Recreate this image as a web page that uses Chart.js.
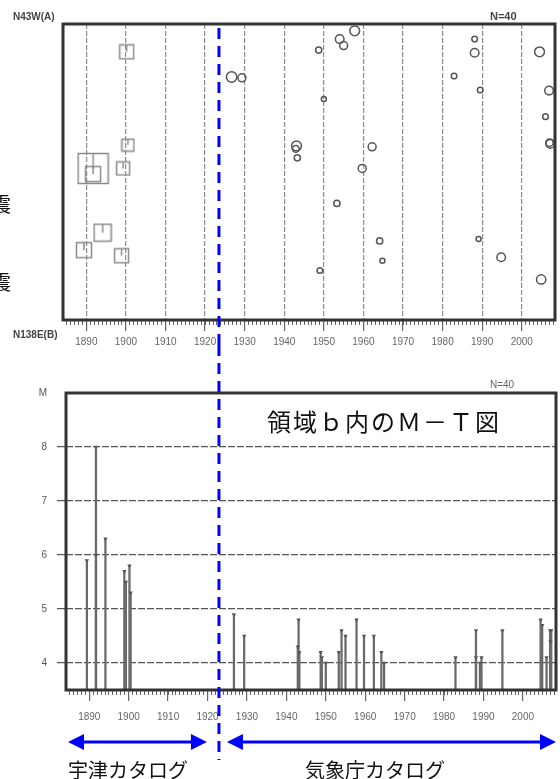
<!DOCTYPE html>
<html lang="ja">
<head>
<meta charset="UTF-8">
<title>領域b内の時空間分布とM-T図</title>
<script src="https://cdn.jsdelivr.net/npm/chart.js"></script>
<style>
    body {
        margin: 0;
        background: #fff;
        font-family: "Noto Sans CJK JP", sans-serif;
    }
    .wrap {
        position: relative;
        width: 560px;
        height: 779px;
        overflow: hidden;
    }
    #topChart { position: absolute; left: 0; top: 0; }
    #mtChart { position: absolute; left: 0; top: 345px; }
    .lbl { position: absolute; white-space: nowrap; }
    .small {
        font-family: Arial, "Liberation Sans", sans-serif;
        font-size: 10px;
        font-weight: bold;
        color: #444;
        line-height: 12px;
    }
    .jp { font-family: "Noto Sans CJK JP", sans-serif; color: #111; }
</style>
</head>
<body>
<div class="wrap">
    <canvas id="topChart" width="560" height="345"></canvas>
    <canvas id="mtChart" width="560" height="434"></canvas>

    <div class="lbl small" style="left:13px; top:11px;">N43W(A)</div>
    <div class="lbl small" style="left:490px; top:10px; font-size:11px;">N=40</div>
    <div class="lbl small" style="left:13px; top:329px;">N138E(B)</div>
    <div class="lbl small" style="left:490px; top:379px; font-weight:normal; color:#666;">N=40</div>

    <div class="lbl jp" style="left:-9px; top:192px; font-size:20px; line-height:24px;">震</div>
    <div class="lbl jp" style="left:-9px; top:270px; font-size:20px; line-height:24px;">震</div>

    <div class="lbl jp" style="left:267px; top:406px; font-size:24px; line-height:30px; letter-spacing:2px;">領域ｂ内のＭ－Ｔ図</div>
    <div class="lbl jp" style="left:68px; top:758px; font-size:20px; line-height:24px;">宇津カタログ</div>
    <div class="lbl jp" style="left:305px; top:758px; font-size:20px; line-height:24px;">気象庁カタログ</div>
</div>
<script>
    // 宇津カタログ (1923年以前)
    const utsuYears = [1889.4, 1891.7, 1891.7, 1894.1, 1898.9, 1899.3, 1900.2, 1900.5];
    const utsuPos   = [76.4, 48.8, 50.7, 70.5, 78.3, 48.8, 9.4, 40.9];   // A(0) → B(100)
    const utsuMag   = [5.9, 8.0, 6.0, 6.3, 5.7, 5.5, 5.8, 5.3];

    // 気象庁カタログ
    const jmaYears = [1926.7, 1929.3, 1943.1, 1942.9, 1943.3, 1948.7, 1949.0, 1950.0, 1953.3, 1954.0,
                      1955.0, 1957.8, 1959.7, 1962.2, 1964.1, 1964.8, 1982.9, 1988.1, 1988.1, 1989.5,
                      1989.1, 1994.8, 2004.5, 2004.9, 2006.0, 2006.9, 2007.0, 2007.2];
    const jmaPos   = [17.9, 18.2, 41.2, 42.2, 45.2, 8.8, 83.3, 25.3, 60.6, 5.1,
                      7.3, 2.3, 48.8, 41.5, 73.3, 80.0, 17.6, 9.7, 5.1, 22.3,
                      72.6, 78.8, 9.4, 86.3, 31.3, 22.5, 40.1, 40.5];
    const jmaMag   = [4.9, 4.5, 4.8, 4.3, 4.2, 4.2, 4.1, 4.0, 4.2, 4.6,
                      4.5, 4.8, 4.5, 4.5, 4.2, 4.0, 4.1, 4.6, 4.1, 4.1,
                      4.0, 4.6, 4.8, 4.7, 4.1, 4.6, 4.4, 4.6];

    // 目盛
    const yearTicks = [1890, 1900, 1910, 1920, 1930, 1940, 1950, 1960, 1970, 1980, 1990, 2000];
    const magTicks = [4, 5, 6, 7, 8];

    const yearMin = 1884.1;
    const yearMax = 2008.4;
    const catalogSplitYear = 1923.5;
    const magMin = 3.5;
    const magMax = 9;

    const tickFont = { family: 'Arial, "Liberation Sans", sans-serif', size: 10 };

    // マグニチュード → シンボルの大きさ
    const squareSide = m => 13 * Math.pow(1.4, m - 5.5);
    const circleRadius = m => 2.5 + (m - 4) * 3;

    // 宇津カタログ用の四角シンボル (上辺から短い縦線)
    function squareSymbol(m) {
        const side = Math.round(squareSide(m));
        const c = document.createElement('canvas');
        c.width = side + 3;
        c.height = side + 3;
        const g = c.getContext('2d');
        g.strokeStyle = '#8a8a8a';
        g.lineWidth = 1.5;
        g.strokeRect(1.5, 1.5, side, side);
        g.beginPath();
        g.moveTo(1.5 + side / 2, 1.5);
        g.lineTo(1.5 + side / 2, 1.5 + side * 0.5);
        g.stroke();
        return c;
    }

    // 年の目盛 (1年ごとの細かい目盛 + 10年ごとの目盛)
    function yearAxes(labelPad, height, withGrid) {
        return {
            xMinor: {
                type: 'linear', position: 'bottom', weight: 0,
                min: yearMin, max: yearMax, offset: false,
                afterFit: s => { s.height = 0; },
                afterBuildTicks: s => {
                    const t = [];
                    for (let v = Math.ceil(yearMin); v <= yearMax; v++) t.push({ value: v });
                    s.ticks = t;
                },
                border: { display: false },
                grid: { drawOnChartArea: false, tickLength: 5, color: '#666', offset: false },
                ticks: { autoSkip: false, display: false }
            },
            x: {
                type: 'linear', position: 'bottom', weight: 1,
                min: yearMin, max: yearMax, offset: false,
                afterFit: s => { s.height = height; },
                afterBuildTicks: s => { s.ticks = yearTicks.map(v => ({ value: v })); },
                border: { display: false, dash: [5, 2] },
                grid: {
                    offset: false,
                    drawOnChartArea: withGrid,
                    tickLength: 11,
                    color: '#8c8c8c',
                    tickColor: '#666',
                    lineWidth: 1.2
                },
                ticks: {
                    autoSkip: false, maxRotation: 0,
                    padding: labelPad, color: '#666', font: tickFont,
                    callback: v => String(v)
                }
            }
        };
    }

    const framePlugin = {
        id: 'frame',
        afterDraw(chart) {
            const a = chart.chartArea, ctx = chart.ctx;
            ctx.save();
            ctx.lineWidth = 3;
            ctx.strokeStyle = '#333';
            ctx.strokeRect(a.left, a.top, a.right - a.left, a.bottom - a.top);
            ctx.restore();
        }
    };

    // 宇津カタログと気象庁カタログの境界 (青破線) と矢印
    let splitX = null;
    const splitPlugin = {
        id: 'split',
        afterDraw(chart, args, opts) {
            const ctx = chart.ctx, a = chart.chartArea;
            if (splitX === null) splitX = chart.scales.x.getPixelForValue(catalogSplitYear);
            const x = splitX;
            ctx.save();
            ctx.strokeStyle = '#0000ff';
            ctx.lineWidth = 3;
            ctx.setLineDash([11, 7]);
            ctx.beginPath();
            ctx.moveTo(x, opts.from);
            ctx.lineTo(x, opts.to);
            ctx.stroke();
            ctx.setLineDash([]);
            if (opts.arrowY) {
                const y = opts.arrowY;
                ctx.fillStyle = '#0000ff';
                const arrow = (x1, x2) => {
                    ctx.beginPath();
                    ctx.moveTo(x1 + 10, y);
                    ctx.lineTo(x2 - 10, y);
                    ctx.stroke();
                    [[x1, 1], [x2, -1]].forEach(([px, d]) => {
                        ctx.beginPath();
                        ctx.moveTo(px, y);
                        ctx.lineTo(px + d * 16, y - 8);
                        ctx.lineTo(px + d * 16, y + 8);
                        ctx.closePath();
                        ctx.fill();
                    });
                };
                arrow(a.left + 2, x - 12);
                arrow(x + 8, a.right);
            }
            ctx.restore();
        }
    };

    // 上段: 時空間分布図
    new Chart(document.getElementById('topChart'), {
        type: 'scatter',
        data: {
            datasets: [{
                data: utsuYears.map((t, i) => ({ x: t, y: utsuPos[i] })),
                pointStyle: utsuMag.map(squareSymbol),
                pointRadius: 5
            }, {
                data: jmaYears.map((t, i) => ({ x: t, y: jmaPos[i] })),
                pointStyle: 'circle',
                pointRadius: jmaMag.map(circleRadius),
                borderColor: '#555',
                borderWidth: 1.5,
                backgroundColor: 'rgba(0,0,0,0)'
            }]
        },
        options: {
            responsive: false,
            animation: false,
            events: [],
            layout: { autoPadding: false, padding: { left: 63, right: 5, top: 24, bottom: 0 } },
            plugins: {
                legend: { display: false },
                tooltip: { enabled: false },
                split: { from: 28, to: 345 }
            },
            scales: Object.assign({
                y: { display: false, reverse: true, min: 0, max: 100 }
            }, yearAxes(5, 25, true))
        },
        plugins: [framePlugin, splitPlugin]
    });

    // 下段: M-T図
    const allYears = utsuYears.concat(jmaYears);
    const allMags = utsuMag.concat(jmaMag);

    new Chart(document.getElementById('mtChart'), {
        type: 'bar',
        data: {
            datasets: [{
                type: 'bar',
                data: allYears.map((t, i) => ({ x: t, y: [magMin, allMags[i]] })),
                backgroundColor: '#6a6a6a',
                barThickness: 1.6,
                order: 2
            }, {
                type: 'scatter',
                data: allYears.map((t, i) => ({ x: t, y: allMags[i] })),
                pointStyle: 'triangle',
                rotation: 180,
                pointRadius: 2.5,
                backgroundColor: '#555',
                borderWidth: 0,
                order: 1
            }]
        },
        options: {
            responsive: false,
            animation: false,
            events: [],
            layout: { autoPadding: false, padding: { left: 0, right: 4, top: 48, bottom: 59 } },
            plugins: {
                legend: { display: false },
                tooltip: { enabled: false },
                split: { from: 0, to: 415, arrowY: 397 }
            },
            scales: Object.assign({
                y: {
                    type: 'linear', min: magMin, max: magMax,
                    afterFit: s => { s.width = 66; },
                    afterBuildTicks: s => {
                        s.ticks = magTicks.map(v => ({ value: v })).concat([{ value: magMax }]);
                    },
                    border: { display: false, dash: [7, 2] },
                    grid: {
                        tickLength: 9,
                        lineWidth: 1.2,
                        color: c => c.tick.value < magMax ? '#555' : 'rgba(0,0,0,0)',
                        tickColor: c => c.tick.value < magMax ? '#555' : 'rgba(0,0,0,0)'
                    },
                    ticks: {
                        autoSkip: false, padding: 10,
                        color: '#555', font: tickFont,
                        callback: v => v === magMax ? 'M' : String(v)
                    }
                }
            }, yearAxes(10, 30, false))
        },
        plugins: [framePlugin, splitPlugin]
    });
</script>
</body>
</html>
